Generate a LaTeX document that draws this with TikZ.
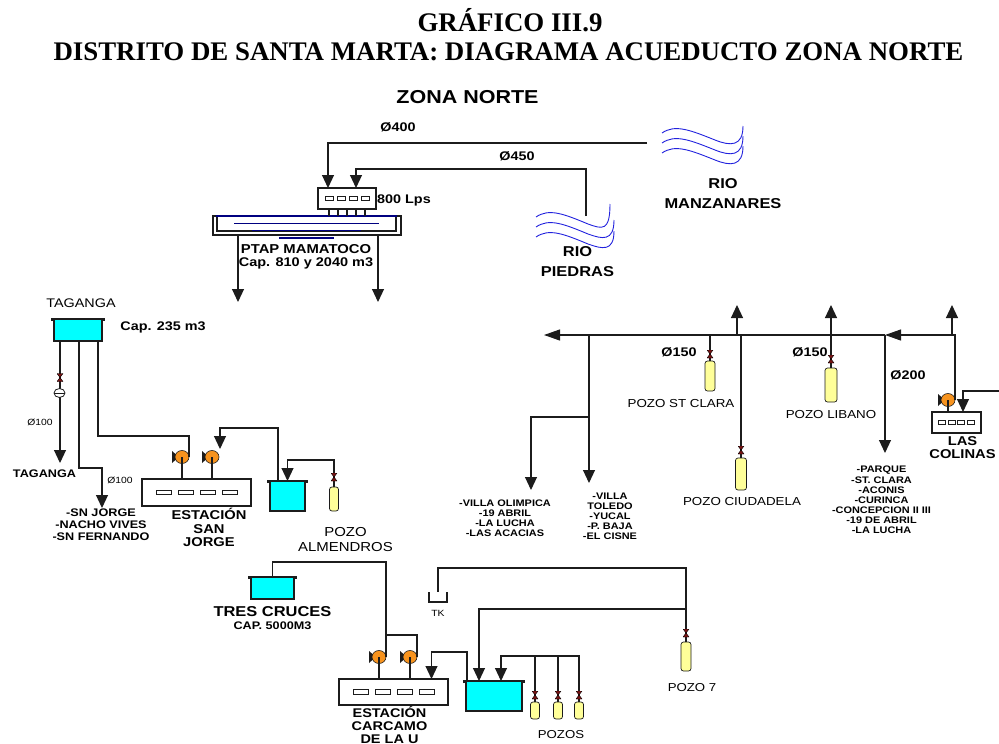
\documentclass[tikz,border=0pt]{standalone}
\usepackage{fontspec}
\setmainfont{Liberation Sans}[FakeStretch=1.15]
\newfontfamily\titlefont{Liberation Serif}
\usetikzlibrary{arrows.meta,positioning,shapes.geometric}
\definecolor{acInk}{HTML}{1C1C1C}
\definecolor{acTank}{HTML}{00FFFF}
\definecolor{acWell}{HTML}{FFFF99}
\definecolor{acPump}{HTML}{F7931E}
\definecolor{acWave}{HTML}{2222DD}
\definecolor{acTray}{HTML}{000080}
\definecolor{acValve}{HTML}{7A1414}
\tikzset{
  ac diagram/.style={text=black, line join=miter},
  ac pipe/.style={draw=acInk, line width=1.1pt},
  ac flow/.style={ac pipe, -{Triangle[length=13pt,width=12pt]}},
  ac main/.style={ac pipe, -{Triangle[length=16pt,width=11pt]}},
  ac box/.style={draw=acInk, fill=white, line width=1.1pt, inner sep=0pt, outer sep=0pt},
  ac slot/.style={draw=acInk, fill=white, line width=0.8pt},
  ac tank/.style={draw=acInk, fill=acTank, line width=1.2pt, inner sep=0pt, outer sep=0pt},
  ac lip/.style={draw=acInk, line width=1.1pt},
  ac well/.style={draw=acInk, fill=acWell, line width=0.7pt, rounded corners=2.5pt, inner sep=0pt, outer sep=0pt},
  ac pump/.style={ellipse, draw=acInk, fill=acPump, line width=0.6pt, minimum width=14pt, minimum height=13pt, inner sep=0pt, outer sep=0pt},
  ac valve/.style={minimum width=6pt, minimum height=8pt, inner sep=0pt, outer sep=0pt,
    path picture={\draw[draw=black, fill=acValve, line width=0.4pt]
      (path picture bounding box.north west) -- (path picture bounding box.south east)
      -- (path picture bounding box.south west) -- (path picture bounding box.north east) -- cycle;}},
  ac meter/.style={ellipse, draw=acInk, fill=white, line width=0.8pt, minimum width=11pt, minimum height=9pt, inner sep=0pt, outer sep=0pt},
  ac wave/.style={draw=acWave, line width=0.9pt},
  ac tray/.style={draw=acTray, line width=1.4pt},
  ac title/.style={font=\titlefont\bfseries\fontsize{26.85}{30}\selectfont, inner sep=0pt},
  ac head/.style={font=\bfseries\fontsize{18.7}{20}\selectfont, inner sep=0pt},
  ac label/.style={font=\bfseries\fontsize{14.3}{14.3}\selectfont, align=center, inner sep=0pt},
  ac station/.style={font=\bfseries\fontsize{12.8}{13.4}\selectfont, align=center, inner sep=0pt},
  ac note/.style={font=\bfseries\fontsize{12.5}{13}\selectfont, align=center, inner sep=0pt},
  ac list/.style={font=\bfseries\fontsize{11}{12}\selectfont, align=center, inner sep=0pt},
  ac tiny/.style={font=\bfseries\fontsize{9.5}{10.1}\selectfont, align=center, inner sep=0pt},
  ac name/.style={font=\fontsize{11.6}{15}\selectfont, align=center, inner sep=0pt},
  ac thin/.style={font=\fontsize{9}{10}\selectfont, inner sep=0pt}
}
\begin{document}
\begin{tikzpicture}[ac diagram,x=1pt,y=-1pt]
\useasboundingbox (0,0) rectangle (999,744);
% titles
\node[ac title] (titleA) at (510,20.5) {GRÁFICO III.9};
\node[ac title] (titleB) at (508.5,52) {DISTRITO DE SANTA MARTA: DIAGRAMA ACUEDUCTO ZONA NORTE};
\node[ac head] (zona) at (467.5,97) {ZONA NORTE};
% free ends of the lines
\foreach \name/\x/\y in {tapManz/647/143,tapPied/586/216,outW/238/302,outE/378/302,
  tipTag/60/463,tipJorge/102/508,tipOlimpica/531/490,tipToledo/589/483,tipMainW/544/335,
  tipMainE/885/335,tipUpA/737/305,tipUpB/831/305,tipUpC/952/305,tipParque/885/453,
  joinOlimpica/589/417,tapEast/999/391,joinTres/386/635,joinSiete/686/609,joinPozos/579/656}
  \coordinate (\name) at (\x,\y);
% stations and plant
\foreach \name/\x/\y/\w/\h in {ptapIn/347/198.5/58/21,sanJorge/196.5/492.5/109/27,
  carcamo/393.5/692/109/26,colinas/956.5/422.5/49/21,ptap/307/225.5/188/19}
  \node[ac box,minimum width=\w pt,minimum height=\h pt] (\name) at (\x,\y) {};
\foreach \name/\gap/\w in {ptapIn/12/8,sanJorge/22/15,carcamo/22/15,colinas/9.5/7}
  \foreach \k in {-1.5,-0.5,0.5,1.5}
    \draw[ac slot] ([xshift=\k*\gap pt]\name.center) ++(-\w/2,-2.2) rectangle ++(\w,4.4);
\draw[ac lip] ([xshift=4pt]ptap.north west) -- ([xshift=4pt,yshift=4pt]ptap.south west)
  -- ([xshift=-5pt,yshift=4pt]ptap.south east) -- ([xshift=-5pt]ptap.north east);
\foreach \y/\a/\b in {216/216/397,223.5/234/379,230.5/252/361,238/279/334}
  \draw[ac tray] (\a,\y) -- (\b,\y);
\foreach \k in {-18,-9,0,9,18}
  \draw[ac pipe] ([xshift=\k pt]ptapIn.south) -- ([xshift=\k pt]ptap.north -| ptapIn.south);
% tanks
\foreach \name/\x/\y/\w/\h in {taganga/78/330/48/22,tankJorge/287.5/496/35/30,
  tresCruces/272.5/588/43/22,tankCarcamo/494/696/56/30}{
  \node[ac tank,minimum width=\w pt,minimum height=\h pt] (\name) at (\x,\y) {};
  \draw[ac lip] ([xshift=-2pt,yshift=-2pt]\name.north west) -- ([xshift=-2pt]\name.north west)
    -- ([xshift=2pt]\name.north east) -- ([xshift=2pt,yshift=-2pt]\name.north east);
}
% wells
\foreach \name/\x/\y/\w/\h in {pozoClara/710/376/10/30,pozoCiudadela/741/474/11/32,
  pozoLibano/831/385/12/34,pozoAlmendros/334/499/9/24,pozoSiete/686/656.5/10/29,
  pozoA/535/710.5/9/17,pozoB/558/710.5/9/17,pozoC/579/710.5/9/17}
  \node[ac well,minimum width=\w pt,minimum height=\h pt] (\name) at (\x,\y) {};
% pumps
\foreach \name/\x/\y in {pumpA/182/457,pumpB/212/457,pumpC/948/400,pumpD/379/657,pumpE/410/657}{
  \fill[acInk] (\x-10,\y-6) -- (\x-6,\y-2.5) -- (\x-6,\y+2.5) -- (\x-10,\y+6) -- cycle;
  \node[ac pump] (\name) at (\x,\y) {};
}
\foreach \name/\plant in {pumpA/sanJorge,pumpB/sanJorge,pumpC/colinas,pumpD/carcamo,pumpE/carcamo}
  \draw[ac pipe] (\name.center) -- (\name.center |- \plant.north);
% tank TK
\node[minimum width=18pt,minimum height=10pt,inner sep=0pt,outer sep=0pt] (tk) at (438,597) {};
\draw[ac lip] (tk.north west) -- (tk.south west) -- (tk.south east) -- (tk.north east);
% top lines
\draw[ac flow] (tapManz) -| ([xshift=-19pt]ptapIn.north);
\draw[ac flow] (tapPied) -- ++(0,-47) -| ([xshift=9pt]ptapIn.north);
\draw[ac flow] (outW |- ptap.south) -- (outW);
\draw[ac flow] (outE |- ptap.south) -- (outE);
% taganga lines
\draw[ac flow] (tipTag |- taganga.south) -- (tipTag);
\draw[ac flow] ([xshift=1pt]taganga.south) -- ++(0,127) -| (tipJorge);
\draw[ac pipe] ([xshift=20pt]taganga.south) -- ++(0,95) -| (pumpA.east);
\draw[ac flow] ([xshift=-9.5pt]tankJorge.north) -- ++(0,-53) -| ([xshift=1pt,yshift=8pt]pumpB.east);
\draw[ac flow] (pozoAlmendros.north) -- ++(0,-27) -| (tankJorge.north);
% east network
\draw[ac main] (pumpC.east) |- (tipMainE);
\draw[ac main] (tipMainE) -- (tipMainW);
\draw[ac flow] (tipUpC |- tipMainE) -- (tipUpC);
\draw[ac flow] (tipMainE) -- (tipParque);
\draw[ac flow] (tipToledo |- tipMainW) -- (tipToledo);
\draw[ac flow] (joinOlimpica) -| (tipOlimpica);
\draw[ac flow] (tipUpA |- tipMainW) -- (tipUpA);
\draw[ac flow] (pozoLibano.north) -- (tipUpB);
\draw[ac pipe] (pozoClara.north) -- (pozoClara.north |- tipMainW);
\draw[ac pipe] (pozoCiudadela.north) -- (pozoCiudadela.north |- tipMainW);
\draw[ac flow] (tapEast) -| ([xshift=6.5pt]colinas.north);
% south lines
\draw[ac pipe] (tresCruces.north) -- ++(0,-15) -| (pumpD.east);
\draw[ac pipe] (joinTres) -| (pumpE.east);
\draw[ac flow] ([xshift=-27pt]tankCarcamo.north) -- ++(0,-29) -| ([xshift=38pt]carcamo.north);
\draw[ac pipe] (pozoSiete.north) -- ++(0,-74) -| (tk.north);
\draw[ac flow] (joinSiete) -| ([xshift=-15pt]tankCarcamo.north);
\draw[ac flow] (pozoC.north) |- (joinPozos) -| ([xshift=7pt]tankCarcamo.north);
\draw[ac pipe] (pozoA.north) -- (pozoA.north |- joinPozos);
\draw[ac pipe] (pozoB.north) -- (pozoB.north |- joinPozos);
% valves
\foreach \name/\gap in {pozoClara/7,pozoCiudadela/8,pozoLibano/9,pozoAlmendros/10,pozoSiete/9,
  pozoA/7,pozoB/7,pozoC/7}
  \node[ac valve] (v\name) at ([yshift=\gap pt]\name.north) {};
\node[ac valve] (vTaganga) at (60,377.5) {};
\node[ac meter] (meterTaganga) at (59.5,393) {};
\draw[ac pipe,line width=0.7pt] (meterTaganga.west) -- (meterTaganga.east);
% rivers
\foreach \dy in {0,10,20}
  \draw[ac wave] (662,133+\dy) .. controls (675,124+\dy) and (690,130+\dy) .. (715,140+\dy)
    .. controls (730,146+\dy) and (743,147+\dy) .. (743,126+\dy);
\foreach \dy/\ex/\ey in {0/610/204,10/614/220,20/614/231}
  \draw[ac wave] (536,217+\dy) .. controls (549,208+\dy) and (564,214+\dy) .. (588,224+\dy)
    .. controls (602,229+\dy) and (\ex,232+\dy) .. (\ex,\ey);
% labels
\node[ac note] (d400) at (398,127) {Ø400};
\node[ac note] (d450) at (517,156) {Ø450};
\node[ac note] (lps) at (404,200) {800 Lps};
\node[ac note,font=\bfseries\fontsize{12.9}{13}\selectfont] (ptapText) at (306,249) {PTAP MAMATOCO};
\node[ac note,font=\bfseries\fontsize{12.6}{13}\selectfont] (ptapCap) at (306,263.5) {Cap. 810 y 2040 m3};
\node[ac label] (rioManz) at (723,193.5) {RIO\\[5pt]MANZANARES};
\node[ac label] (rioPied) at (577.5,261.5) {RIO\\[5pt]PIEDRAS};
\node[ac name,font=\fontsize{12.5}{15}\selectfont] (tagTop) at (81,303) {TAGANGA};
\node[ac note] (capTag) at (163,327) {Cap. 235 m3};
\node[ac thin] (dCienA) at (40,422) {Ø100};
\node[ac thin] (dCienB) at (120,480) {Ø100};
\node[ac list] (tagBot) at (44.5,474) {TAGANGA};
\node[ac list] (listJorge) at (101,525) {-SN JORGE\\-NACHO VIVES\\-SN FERNANDO};
\node[ac station] (estJorge) at (209,527.5) {ESTACIÓN\\SAN\\JORGE};
\node[ac name,font=\fontsize{13}{15}\selectfont] (almText) at (345.5,540) {POZO\\ALMENDROS};
\node[ac note] (dClara) at (679,352) {Ø150};
\node[ac note] (dLibano) at (810,352) {Ø150};
\node[ac note] (dDos) at (908,375) {Ø200};
\node[ac name] (claraText) at (681,404) {POZO ST CLARA};
\node[ac name] (libanoText) at (831,415) {POZO LIBANO};
\node[ac name] (ciudText) at (742,502) {POZO CIUDADELA};
\node[ac tiny] (listOlimpica) at (505,518.5) {-VILLA OLIMPICA\\-19 ABRIL\\-LA LUCHA\\-LAS ACACIAS};
\node[ac tiny] (listToledo) at (610,516.5) {-VILLA\\TOLEDO\\-YUCAL\\-P. BAJA\\-EL CISNE};
\node[ac tiny] (listParque) at (881.5,500) {-PARQUE\\-ST. CLARA\\-ACONIS\\-CURINCA\\-CONCEPCION II III\\-19 DE ABRIL\\-LA LUCHA};
\node[ac station] (colText) at (962.5,447.5) {LAS\\COLINAS};
\node[ac label] (tresText) at (272.5,612) {TRES CRUCES};
\node[ac list] (capTres) at (272.5,626) {CAP. 5000M3};
\node[ac thin] (tkText) at (438,613) {TK};
\node[ac station,font=\bfseries\fontsize{12.6}{13}\selectfont] (estCar) at (389.5,724.5) {ESTACIÓN\\CARCAMO\\DE LA U};
\node[ac name,font=\fontsize{11.5}{13}\selectfont] (sieteText) at (692,688) {POZO 7};
\node[ac name,font=\fontsize{11.5}{13}\selectfont] (pozosText) at (561,735) {POZOS};
\end{tikzpicture}
\end{document}
